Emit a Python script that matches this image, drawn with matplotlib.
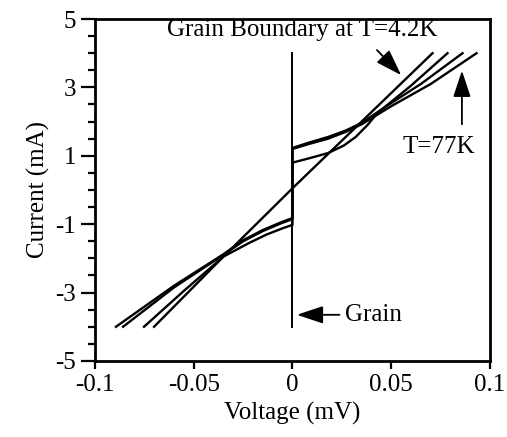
#!/usr/bin/env python3
import numpy as np
import matplotlib
matplotlib.use('Agg')
import matplotlib.pyplot as plt
from matplotlib.ticker import MultipleLocator

plt.rcParams['font.family'] = ['Liberation Serif', 'DejaVu Serif']
plt.rcParams['font.size'] = 18
plt.rcParams['axes.unicode_minus'] = False

# I-V curves, voltage (mV) vs current (mA)
v_lin = [-0.0701, -0.035, 0.0, 0.035, 0.0709]
i_lin = [-4.0, -1.95, 0.05, 2.0, 4.0]

v_b = [-0.0752, -0.055, -0.035, -0.022, -0.013, -0.005, 0.0,
       0.0, 0.008, 0.018, 0.026, 0.032, 0.038, 0.043, 0.06, 0.0785]
i_b = [-4.0, -2.95, -1.95, -1.55, -1.30, -1.12, -1.02,
       0.80, 0.92, 1.08, 1.30, 1.55, 1.90, 2.25, 3.05, 4.0]

v_c = [-0.0858, -0.06, -0.035, -0.025, -0.015, -0.006, 0.0,
       0.0, 0.008, 0.018, 0.027, 0.035, 0.047, 0.065, 0.0861]
i_c = [-4.0, -2.85, -1.90, -1.50, -1.20, -0.98, -0.85,
       1.23, 1.38, 1.55, 1.74, 1.96, 2.43, 3.10, 4.0]

v_d = [-0.0894, -0.06, -0.035, -0.025, -0.015, -0.006, 0.0,
       0.0, 0.008, 0.018, 0.027, 0.035, 0.05, 0.07, 0.0932]
i_d = [-4.0, -2.80, -1.88, -1.47, -1.17, -0.95, -0.82,
       1.20, 1.34, 1.50, 1.70, 1.92, 2.45, 3.10, 4.0]

# grain: zero-voltage branch
v_grain = [0.0, 0.0]
i_grain = [-4.0, 4.0]

fig = plt.figure(figsize=(5.07, 4.37), dpi=100)
ax = fig.add_axes([0.1874, 0.174, 0.779, 0.7825])

for v, i in [(v_lin, i_lin), (v_b, i_b), (v_c, i_c), (v_d, i_d)]:
    ax.plot(v, i, 'k-', linewidth=1.7)
ax.plot(v_grain, i_grain, 'k-', linewidth=1.4)

ax.set_xlim(-0.1, 0.1)
ax.set_ylim(-5, 5)
ax.set_xticks([-0.1, -0.05, 0, 0.05, 0.1])
ax.set_xticklabels(['-0.1', '-0.05', '0', '0.05', '0.1'])
ax.set_yticks([-5, -3, -1, 1, 3, 5])
ax.yaxis.set_minor_locator(MultipleLocator(0.5))
ax.tick_params(axis='y', which='major', direction='out', length=10, width=1.6)
ax.tick_params(axis='y', which='minor', direction='out', length=5, width=1.6)
ax.tick_params(axis='x', which='major', direction='out', length=6, width=1.6)
for s in ax.spines.values():
    s.set_linewidth(2)

ax.set_xlabel("Voltage (mV)")
ax.set_ylabel("Current (mA)")

arrow = dict(arrowstyle='-|>,head_length=0.9,head_width=0.3', color='k', lw=1.3)

ax.text(0.005, 4.68, "Grain Boundary at T=4.2K", ha='center', va='center')
ax.annotate("", xy=(0.056, 3.3), xytext=(0.0418, 4.15), arrowprops=arrow)

ax.text(0.074, 1.26, "T=77K", ha='center', va='center')
ax.annotate("", xy=(0.0858, 3.57), xytext=(0.0858, 1.84), arrowprops=arrow)

ax.annotate("Grain", xy=(0.0008, -3.65), xytext=(0.0266, -3.65),
            ha='left', va='center', arrowprops=arrow)

plt.savefig("out.png", dpi=100)
